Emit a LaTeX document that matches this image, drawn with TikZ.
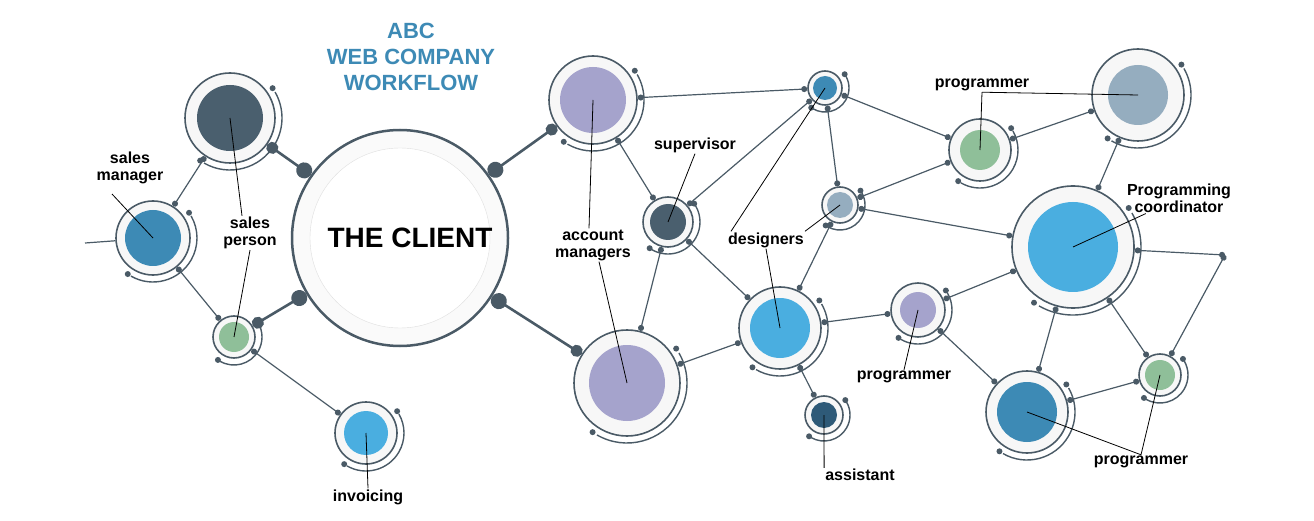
\documentclass[tikz,border=0pt]{standalone}
\usepackage{fontspec}
\setmainfont{Liberation Sans}
\usetikzlibrary{arrows.meta,backgrounds}
\definecolor{slate}{HTML}{4A5A66}
\definecolor{navy}{HTML}{4A5F6E}
\definecolor{steel}{HTML}{3D8AB5}
\definecolor{sky}{HTML}{4AAEE0}
\definecolor{lav}{HTML}{A5A3CC}
\definecolor{sage}{HTML}{8FBF99}
\definecolor{mist}{HTML}{95ADBF}
\definecolor{deep}{HTML}{2E5A78}
\definecolor{ttl}{HTML}{3D8AB5}

\begin{document}
\begin{tikzpicture}[x=1pt,y=-1pt,
    ring/.style={circle, draw=slate, line width=1.6pt, fill=gray!6, inner sep=0pt},
    link/.style={slate, line width=1.2pt, {Circle[length=6pt]}-{Circle[length=6pt]}},
    hublink/.style={slate, line width=2.6pt, {Circle[length=16pt]}-{Circle[length=12pt]}},
    lead/.style={black, line width=0.8pt},
    lbl/.style={font=\bfseries\fontsize{16}{17}\selectfont, align=center, inner sep=1pt}]
    \useasboundingbox (0,0) rectangle (1314,521);
    \newcommand{\bubble}[5]{% name, position, ring size, inner size, colour
        \node[ring, minimum size=#3] (#1) at (#2) {};
        \fill[#5] (#2) circle (#4/2);
        \draw[slate, line width=1.4pt] (#1.center) ++(120:#3/2+7) arc (120:-30:#3/2+7);
        \fill[slate] (#1.center) ++(125:#3/2+7) circle (3pt);
        \fill[slate] (#1.center) ++(-35:#3/2+7) circle (3pt);
    }
    % title
    \node[font=\bfseries\fontsize{22}{26}\selectfont, text=ttl, align=center] (title) at (411,57) {ABC\\WEB COMPANY\\WORKFLOW};
    % the client
    \node[circle, draw=slate, line width=2.5pt, fill=gray!4, minimum size=216] (client) at (400,238) {};
    \node[circle, fill=white, draw=gray!25, minimum size=180] at (400,238) {};
    \node[font=\bfseries\fontsize{28}{30}\selectfont] (ctext) at (410,238) {THE CLIENT};
    % bubbles
    \bubble{sp}{230,118}{90}{66}{navy}
    \bubble{sm}{153,238}{74}{56}{steel}
    \bubble{sg}{234,337}{42}{30}{sage}
    \bubble{inv}{366,433}{62}{44}{sky}
    \bubble{amt}{593,100}{88}{66}{lav}
    \bubble{amb}{627,383}{106}{76}{lav}
    \bubble{sup}{668,222}{50}{36}{navy}
    \bubble{dst}{825,88}{34}{24}{steel}
    \bubble{dsm}{840,205}{36}{26}{mist}
    \bubble{dsb}{780,328}{82}{60}{sky}
    \bubble{ast}{824,415}{38}{26}{deep}
    \bubble{pgt}{980,150}{62}{40}{sage}
    \bubble{tr}{1138,95}{92}{60}{mist}
    \bubble{pc}{1073,247}{122}{90}{sky}
    \bubble{pgl}{918,310}{54}{36}{lav}
    \bubble{pgs}{1160,375}{42}{30}{sage}
    \bubble{bb}{1027,412}{82}{60}{steel}
    \coordinate (lft) at (85,243);
    \coordinate (rgt) at (1225,255);
    % connectors
    \begin{scope}[on background layer]
        \draw[hublink] (client) -- (sp);
        \draw[hublink] (client) -- (sg);
        \draw[hublink] (client) -- (amt);
        \draw[hublink] (client) -- (amb);
        \draw[link] (sm) -- (sp);
        \draw[link] (sm) -- (sg);
        \draw[slate, line width=1.2pt] (sm) -- (lft);
        \draw[link] (sg) -- (inv);
        \draw[link] (amt) -- (dst);
        \draw[link] (amt) -- (sup);
        \draw[link] (sup) -- (dst);
        \draw[link] (sup) -- (amb);
        \draw[link] (sup) -- (dsb);
        \draw[link] (amb) -- (dsb);
        \draw[link] (dst) -- (pgt);
        \draw[link] (dst) -- (dsm);
        \draw[link] (dsm) -- (pgt);
        \draw[link] (dsm) -- (pc);
        \draw[link] (dsm) -- (dsb);
        \draw[link] (dsb) -- (ast);
        \draw[link] (dsb) -- (pgl);
        \draw[link] (pgl) -- (pc);
        \draw[link] (pgl) -- (bb);
        \draw[link] (pgt) -- (tr);
        \draw[link] (pc) -- (tr);
        \draw[link] (pc) -- (rgt);
        \draw[link] (rgt) -- (pgs);
        \draw[link] (pc) -- (bb);
        \draw[link] (pc) -- (pgs);
        \draw[link] (bb) -- (pgs);
    \end{scope}
    % labels
    \node[lbl] (lsm) at (130,168) {sales\\manager};
    \draw[lead] (112,194) -- (sm.center);
    \node[lbl] (lsp) at (250,233) {sales\\person};
    \draw[lead] (lsp.north) ++(-8,0) -- (sp.center);
    \draw[lead] (lsp.south) -- (sg.center);
    \node[lbl] (lam) at (593,245) {account\\managers};
    \draw[lead] (lam.north) ++(-4,0) -- (amt.center);
    \draw[lead] (lam.south) ++(6,0) -- (amb.center);
    \node[lbl] (lsu) at (695,145) {supervisor};
    \draw[lead] (lsu.south) -- (sup.center);
    \node[lbl] (lds) at (766,240) {designers};
    \draw[lead] (lds.north west) ++(4,0) -- (dst.center);
    \draw[lead] (lds.north east) -- (dsm.center);
    \draw[lead] (lds.south) -- (dsb.center);
    \node[lbl] (lpt) at (982,85) {programmer};
    \draw[lead] (lpt.south) -- (pgt.center);
    \draw[lead] (lpt.south) -- (tr.center);
    \node[lbl] (lpc) at (1179,198) {Programming\\coordinator};
    \draw[lead] (lpc.south west) ++(20,0) -- (pc.center);
    \node[lbl] (lpl) at (904,377) {programmer};
    \draw[lead] (lpl.north) -- (pgl.center);
    \node[lbl] (las) at (860,475) {assistant};
    \draw[lead] (las.north west) -- (ast.center);
    \node[lbl] (lpb) at (1141,462) {programmer};
    \draw[lead] (bb.center) -- (lpb.north) -- (pgs.center);
    \node[lbl] (liv) at (368,497) {invoicing};
    \draw[lead] (liv.north) -- (inv.center);
\end{tikzpicture}
\end{document}
